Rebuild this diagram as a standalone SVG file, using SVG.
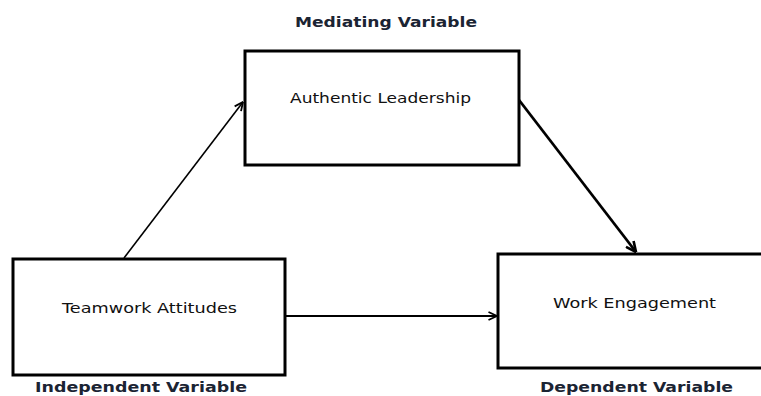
<svg xmlns="http://www.w3.org/2000/svg" width="761" height="396" viewBox="0 0 761 396">
<style>
.box{fill:#fff;stroke:#000;stroke-width:3}
.lbl{font-family:"DejaVu Sans",Verdana,sans-serif;font-size:14px;fill:#111}
.cap{font-family:"DejaVu Sans",Verdana,sans-serif;font-size:14px;font-weight:bold;fill:#1b2433}
.conn{fill:none;stroke:#000}
</style>
<defs>
<marker id="arr" viewBox="0 0 10 10" refX="9.5" refY="5" markerWidth="10" markerHeight="10" markerUnits="userSpaceOnUse" orient="auto">
<path d="M1,1 L9.5,5 L1,9" fill="none" stroke="#000" stroke-width="1.8"/>
</marker>
<marker id="arrb" viewBox="0 0 10 10" refX="9.5" refY="5" markerWidth="12" markerHeight="12" markerUnits="userSpaceOnUse" orient="auto">
<path d="M1,1 L9.5,5 L1,9" fill="none" stroke="#000" stroke-width="2.2"/>
</marker>
</defs>
<rect width="761" height="396" fill="#fff"/>
<text class="cap" x="386" y="27" text-anchor="middle" textLength="182" lengthAdjust="spacingAndGlyphs">Mediating Variable</text>
<g id="connectors">
<path class="conn" d="M124,258 L243,102" stroke-width="1.6" marker-end="url(#arr)"/>
<path class="conn" d="M519,100 L636,252" stroke-width="2.8" marker-end="url(#arrb)"/>
<path class="conn" d="M285,316 L497,316" stroke-width="2.2" marker-end="url(#arr)"/>
</g>
<g id="authentic-leadership">
<rect class="box" x="245" y="51" width="274" height="114"/>
<text class="lbl" x="380.5" y="103" text-anchor="middle" textLength="181" lengthAdjust="spacingAndGlyphs">Authentic Leadership</text>
</g>
<g id="teamwork-attitudes">
<rect class="box" x="13" y="259" width="272" height="116"/>
<text class="lbl" x="149.5" y="313" text-anchor="middle" textLength="175" lengthAdjust="spacingAndGlyphs">Teamwork Attitudes</text>
</g>
<g id="work-engagement">
<rect class="box" x="498" y="254" width="270" height="114"/>
<text class="lbl" x="634.5" y="308" text-anchor="middle" textLength="163" lengthAdjust="spacingAndGlyphs">Work Engagement</text>
</g>
<text class="cap" x="141" y="392" text-anchor="middle" textLength="212" lengthAdjust="spacingAndGlyphs">Independent Variable</text>
<text class="cap" x="636.5" y="392" text-anchor="middle" textLength="193" lengthAdjust="spacingAndGlyphs">Dependent Variable</text>
</svg>
